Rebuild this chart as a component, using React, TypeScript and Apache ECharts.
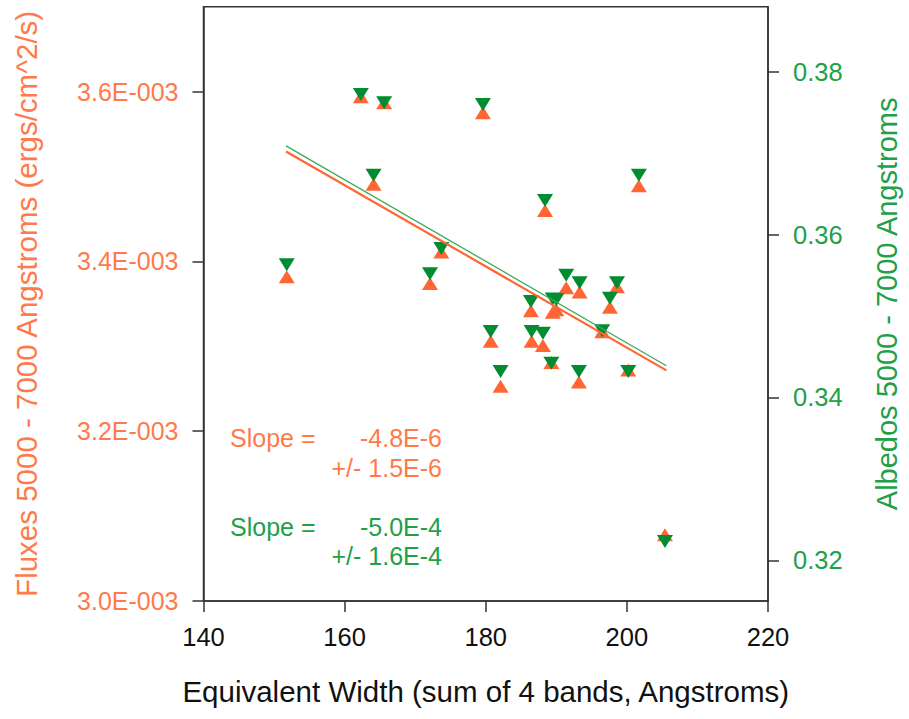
import React, { useEffect, useRef } from "react";
import * as echarts from "echarts";

// Equivalent width (sum of 4 bands, Angstroms)
const equivalentWidths = [151.8, 162.3, 165.6, 164.1, 172.1, 173.7, 179.6, 180.7, 182.1, 186.4, 186.5, 188.1, 188.4, 189.3, 189.5, 190.0, 191.4, 193.3, 193.2, 196.5, 197.6, 198.6, 200.2, 201.7, 205.4];
// Fluxes 5000 - 7000 Angstroms (ergs/cm^2/s)
const fluxes = [0.003382, 0.003594, 0.003587, 0.003491, 0.003374, 0.003411, 0.003575, 0.003306, 0.003253, 0.003342, 0.003306, 0.003301, 0.00346, 0.003281, 0.00334, 0.003343, 0.003369, 0.003364, 0.003258, 0.003317, 0.003346, 0.00337, 0.003272, 0.003489, 0.003078];
// Albedos 5000 - 7000 Angstroms
const albedos = [0.3563, 0.3772, 0.3762, 0.3673, 0.3552, 0.3583, 0.376, 0.3481, 0.3432, 0.3518, 0.3481, 0.3479, 0.3642, 0.3442, 0.3521, 0.352, 0.355, 0.3541, 0.3432, 0.3482, 0.3522, 0.3541, 0.3432, 0.3673, 0.3223];

// Fitted lines (end points)
const fluxFitX = [151.7, 205.6];
const fluxFitY = [0.0035295, 0.0032716];
const albedoFitX = [151.7, 205.6];
const albedoFitY = [0.3709, 0.3439];

const xTicks = [140, 160, 180, 200, 220];
const fluxTicks = [0.003, 0.0032, 0.0034, 0.0036];
const albedoTicks = [0.32, 0.34, 0.36, 0.38];

const fluxSlopeText = ["Slope =", "-4.8E-6", "+/- 1.5E-6"];
const albedoSlopeText = ["Slope =", "-5.0E-4", "+/- 1.6E-4"];

const ORANGE = "#FF6633";
const ORANGE_TEXT = "#FF7A4A";
const GREEN = "#008C30";
const GREEN_TEXT = "#22A048";
const AXIS = "#333333";
const FONT = "'Liberation Sans', Arial, Helvetica, sans-serif";

export default function App() {
  const ref = useRef<HTMLDivElement>(null);
  useEffect(() => {
    if (!ref.current) return;
    const chart = echarts.init(ref.current, null, { renderer: "svg" });
    const fluxPts = equivalentWidths.map((x, i) => [x, fluxes[i]]);
    const albPts = equivalentWidths.map((x, i) => [x, albedos[i]]);
    const fluxLine = fluxFitX.map((x, i) => [x, fluxFitY[i]]);
    const albLine = albedoFitX.map((x, i) => [x, albedoFitY[i]]);
    const slopeFont = `25px ${FONT}`;
    chart.setOption({
      animation: false,
      backgroundColor: "#ffffff",
      textStyle: { fontFamily: FONT },
      grid: {
        left: 203.5,
        right: 141,
        top: 6.7,
        bottom: 118,
        show: true,
        borderColor: AXIS,
        borderWidth: 1.5,
        backgroundColor: "transparent",
        containLabel: false,
        outerBoundsMode: "none",
      },
      xAxis: {
        type: "value",
        min: 140,
        max: 220,
        interval: 20,
        name: "Equivalent Width (sum of 4 bands, Angstroms)",
        nameLocation: "middle",
        nameGap: 75,
        nameTextStyle: { fontSize: 29.5, color: "#111", fontFamily: FONT },
        axisLine: { show: true, lineStyle: { color: AXIS, width: 1.5 } },
        axisTick: { show: true, length: 11, inside: false, lineStyle: { color: AXIS, width: 1.5 }, customValues: xTicks },
        axisLabel: { fontSize: 25.5, color: "#111", margin: 23, fontFamily: FONT, customValues: xTicks },
        splitLine: { show: false },
      },
      yAxis: [
        {
          type: "value",
          position: "left",
          min: 0.003,
          max: 0.0037,
          name: "Fluxes 5000 - 7000 Angstroms (ergs/cm^2/s)",
          nameLocation: "middle",
          nameGap: 162,
          nameTextStyle: { fontSize: 29.5, color: ORANGE_TEXT, fontFamily: FONT },
          axisLine: { show: true, lineStyle: { color: AXIS, width: 1.5 } },
          axisTick: { show: true, length: 11, lineStyle: { color: AXIS, width: 1.5 }, customValues: fluxTicks },
          axisLabel: {
            fontSize: 25,
            color: ORANGE_TEXT,
            margin: 25,
            fontFamily: FONT,
            customValues: fluxTicks,
            formatter: (v: number) => (v * 1000).toFixed(1) + "E-003",
          },
          splitLine: { show: false },
        },
        {
          type: "value",
          position: "right",
          min: 0.315,
          max: 0.388,
          name: "Albedos 5000 - 7000 Angstroms",
          nameLocation: "middle",
          nameGap: 104,
          nameTextStyle: { fontSize: 29, color: GREEN_TEXT, fontFamily: FONT },
          axisLine: { show: true, lineStyle: { color: AXIS, width: 1.5 } },
          axisTick: { show: true, length: 11, lineStyle: { color: AXIS, width: 1.5 }, customValues: albedoTicks },
          axisLabel: {
            fontSize: 25.5,
            color: GREEN_TEXT,
            margin: 25,
            fontFamily: FONT,
            customValues: albedoTicks,
            formatter: (v: number) => v.toFixed(2),
          },
          splitLine: { show: false },
        },
      ],
      series: [
        {
          type: "scatter",
          name: "Flux",
          yAxisIndex: 0,
          data: fluxPts,
          symbol: "triangle",
          symbolSize: [16, 13],
          itemStyle: { color: ORANGE, opacity: 1 },
          z: 2,
        },
        {
          type: "scatter",
          name: "Albedo",
          yAxisIndex: 1,
          data: albPts,
          symbol: "triangle",
          symbolRotate: 180,
          symbolSize: [16, 13],
          itemStyle: { color: GREEN, opacity: 1 },
          z: 3,
        },
        {
          type: "line",
          yAxisIndex: 0,
          data: fluxLine,
          symbol: "none",
          lineStyle: { color: ORANGE, width: 2.2 },
          z: 4,
        },
        {
          type: "line",
          yAxisIndex: 1,
          data: albLine,
          symbol: "none",
          lineStyle: { color: "#3DAA5C", width: 1.3 },
          z: 4,
        },
      ],
      graphic: [
        { type: "text", x: 230, y: 438, style: { text: fluxSlopeText[0], fill: ORANGE_TEXT, font: slopeFont, textAlign: "left", textVerticalAlign: "middle" } },
        { type: "text", x: 442, y: 438, style: { text: fluxSlopeText[1], fill: ORANGE_TEXT, font: slopeFont, textAlign: "right", textVerticalAlign: "middle" } },
        { type: "text", x: 442, y: 468, style: { text: fluxSlopeText[2], fill: ORANGE_TEXT, font: slopeFont, textAlign: "right", textVerticalAlign: "middle" } },
        { type: "text", x: 230, y: 527, style: { text: albedoSlopeText[0], fill: GREEN_TEXT, font: slopeFont, textAlign: "left", textVerticalAlign: "middle" } },
        { type: "text", x: 442, y: 527, style: { text: albedoSlopeText[1], fill: GREEN_TEXT, font: slopeFont, textAlign: "right", textVerticalAlign: "middle" } },
        { type: "text", x: 442, y: 556, style: { text: albedoSlopeText[2], fill: GREEN_TEXT, font: slopeFont, textAlign: "right", textVerticalAlign: "middle" } },
      ],
    });
    return () => chart.dispose();
  }, []);
  return (
    <div
      ref={ref}
      style={{ position: "fixed", left: 0, top: 0, width: 909, height: 719, background: "#fff" }}
    />
  );
}
